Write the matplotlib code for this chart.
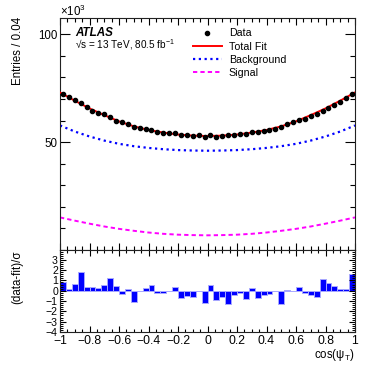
import numpy as np
import matplotlib
matplotlib.use("Agg")
import matplotlib.pyplot as plt
from matplotlib.ticker import MultipleLocator, FixedLocator, FuncFormatter

plt.rcParams['font.family'] = ['Liberation Sans', 'DejaVu Sans']
plt.rcParams['mathtext.fontset'] = 'custom'
plt.rcParams['mathtext.rm'] = 'Liberation Sans'
plt.rcParams['mathtext.it'] = 'Liberation Sans:italic'
plt.rcParams['mathtext.bf'] = 'Liberation Sans:bold'

# ---- data (values in units of 10^3 entries) ----
bin_centers = np.round(np.arange(-0.98, 1.0, 0.04), 2)
data_vals = [72.4, 70.8, 69.4, 68.3, 66.3, 64.6, 63.4, 62.8, 61.4, 60.0,
             59.1, 58.3, 56.9, 56.3, 56.2, 55.7, 54.8, 54.3, 54.2, 54.0,
             53.2, 53.1, 52.9, 53.1, 52.3, 53.1, 52.5, 52.8, 53.1, 53.4,
             53.8, 53.8, 54.5, 54.6, 55.1, 55.5, 56.2, 56.8, 58.3, 59.1,
             60.2, 60.8, 62.0, 62.8, 64.6, 65.9, 67.4, 68.8, 70.2, 72.5]
pulls = [0.8, 0.2, 0.7, 1.8, 0.38, 0.38, 0.25, 0.6, 1.2, 0.45,
         -0.32, 0.16, -1.1, -0.05, 0.3, 0.6, -0.22, -0.2, -0.05, 0.35,
         -0.73, -0.5, -0.63, -0.02, -1.2, 0.55, -0.9, -0.6, -1.3, -0.4,
         -0.25, -0.78, 0.25, -0.7, -0.45, -0.3, -0.05, -1.27, 0.05, -0.05,
         0.38, -0.25, -0.38, -0.63, 1.17, 0.73, 0.5, 0.16, 0.2, 1.6]

curve_x = [-1.0, -0.9, -0.8, -0.7, -0.6, -0.5, -0.4, -0.3, -0.2, -0.1, 0.0,
           0.1, 0.2, 0.3, 0.4, 0.5, 0.6, 0.7, 0.8, 0.9, 1.0]
total_fit = [73.0, 69.2, 65.6, 62.5, 59.6, 57.3, 55.6, 54.4, 53.5, 53.0, 52.8,
             53.0, 53.5, 54.4, 55.6, 57.3, 59.6, 62.5, 65.6, 69.2, 73.0]
background = [57.7, 54.9, 52.6, 50.7, 49.2, 48.1, 47.3, 46.7, 46.3, 46.1, 46.0,
              46.1, 46.3, 46.7, 47.3, 48.1, 49.2, 50.7, 52.6, 54.9, 57.7]
signal = [15.1, 13.6, 12.2, 10.9, 9.8, 8.9, 8.1, 7.5, 7.1, 6.9, 6.8,
          6.9, 7.1, 7.5, 8.1, 8.9, 9.8, 10.9, 12.2, 13.6, 15.1]
x_ticks = [-1.0, -0.8, -0.6, -0.4, -0.2, 0.0, 0.2, 0.4, 0.6, 0.8, 1.0]

W, H = 374, 372
fig = plt.figure(figsize=(W / 100, H / 100), dpi=100)
L, R = 60, 355
T1, B1, B2 = 18, 250, 332
ax1 = fig.add_axes([L / W, 1 - B1 / H, (R - L) / W, (B1 - T1) / H])
ax2 = fig.add_axes([L / W, 1 - B2 / H, (R - L) / W, (B2 - B1) / H])

# main panel
ax1.plot(curve_x, total_fit, color='#ff0000', lw=1.4, label='Total Fit', zorder=3)
ax1.plot(curve_x, background, color='#0000ff', lw=1.6, ls=(0, (1, 1.6)), label='Background', zorder=2)
ax1.plot(curve_x, signal, color='#ff00ff', lw=1.4, ls=(0, (2.2, 1.6)), label='Signal', zorder=2)
ax1.plot(bin_centers, data_vals, 'o', color='black', ms=3, label='Data', zorder=4)

ax1.set_xlim(-1, 1)
ax1.set_ylim(0, 107.5)

def fmt(v, pos):
    v = round(v, 6)
    if abs(v) < 1e-9:
        v = 0.0
    return ('%g' % v).replace('-', '\u2212')

for ax in (ax1, ax2):
    ax.xaxis.set_major_locator(FixedLocator(x_ticks))
    ax.xaxis.set_minor_locator(MultipleLocator(0.05))
    for sp in ax.spines.values():
        sp.set_linewidth(0.8)
        sp.set_color('#222222')

ax1.yaxis.set_major_locator(FixedLocator([50, 100]))
ax1.yaxis.set_minor_locator(MultipleLocator(10))
ax1.tick_params(axis='x', which='both', direction='in', top=True, bottom=True, labelbottom=False)
ax1.tick_params(axis='x', which='major', length=5, width=0.8)
ax1.tick_params(axis='x', which='minor', length=3, width=0.8)
ax1.tick_params(axis='y', which='both', direction='in', left=True, right=True, labelsize=8.3)
ax1.tick_params(axis='y', which='major', length=7, width=0.8, pad=1.5)
ax1.tick_params(axis='y', which='minor', length=3.6, width=0.8)

handles, labels = ax1.get_legend_handles_labels()
order = [3, 0, 1, 2]
ax1.legend([handles[i] for i in order], [labels[i] for i in order],
           loc='upper left', bbox_to_anchor=(0.451, 0.955), frameon=False,
           fontsize=7.7, handlelength=2.7, handletextpad=0.65, labelspacing=0.3,
           borderpad=0, borderaxespad=0, numpoints=1)

ax1.text(0.051, 0.936, 'ATLAS', transform=ax1.transAxes, fontsize=8.4,
         fontweight='bold', fontstyle='italic', ha='left', va='center')
ax1.text(0.051, 0.884, '\u221As = 13 TeV, 80.5 fb$^{-1}$', transform=ax1.transAxes,
         fontsize=7.2, ha='left', va='center')

fig.text(L / W, 1 - 11 / H, '\u00d710$^{3}$', fontsize=8.3, ha='left', va='center')
fig.text(18 / W, 1 - 17 / H, 'Entries / 0.04', rotation=90, fontsize=8.3, ha='center', va='top')

# pull panel
ax2.bar(bin_centers, pulls, width=0.04, color='#0000ff', edgecolor='#a8a8ff', linewidth=0.7)
ax2.set_xlim(-1, 1)
ax2.set_ylim(-4, 3.95)
ax2.yaxis.set_major_locator(MultipleLocator(1))
ax2.yaxis.set_minor_locator(MultipleLocator(0.2))
ax2.xaxis.set_major_formatter(FuncFormatter(fmt))
ax2.yaxis.set_major_formatter(FuncFormatter(fmt))
ax2.tick_params(axis='x', which='both', direction='in', top=True, bottom=True, labelsize=8.8, pad=2.5)
ax2.tick_params(axis='x', which='major', length=4, width=0.8)
ax2.tick_params(axis='x', which='minor', length=2.2, width=0.8)
ax2.tick_params(axis='y', which='both', direction='in', left=True, right=True, labelsize=7.6, pad=1.5)
ax2.tick_params(axis='y', which='major', length=4.5, width=0.8)
ax2.tick_params(axis='y', which='minor', length=2.5, width=0.7)

fig.text(17 / W, 1 - B1 / H, '(data-fit)/\u03c3', rotation=90, fontsize=8.3, ha='center', va='top')
fig.text(R / W, 1 - 355 / H, 'cos(\u03c8$_{\\mathrm{T}}$)', fontsize=8.3, ha='right', va='center')

fig.savefig('out.png', dpi=100)
